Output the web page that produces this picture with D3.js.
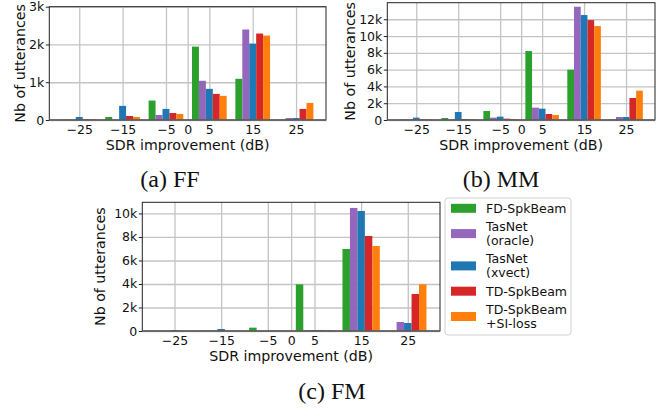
<!DOCTYPE html>
<html>
<head>
<meta charset="utf-8">
<script src="https://cdn.jsdelivr.net/npm/d3@7"></script>
<style>
  body { margin: 0; background: #fff; }
</style>
</head>
<body>
<script>
// bin centres of the SDR improvement histogram (bins 10 dB wide)
const bins = [-25, -15, -5, 5, 15, 25];
const xTicks = [-25, -15, -5, 0, 5, 15, 25];
const seriesNames = ["FD-SpkBeam", "TasNet (oracle)", "TasNet (xvect)", "TD-SpkBeam", "TD-SpkBeam +SI-loss"];
const legendLines = [["FD-SpkBeam"], ["TasNet", "(oracle)"], ["TasNet", "(xvect)"], ["TD-SpkBeam"], ["TD-SpkBeam", "+SI-loss"]];
const colors = ["#2ca02c", "#9467bd", "#1f77b4", "#d62728", "#ff7f0e"];

// counts per series (rows follow seriesNames), one value per bin
const ffCounts = [
  [10, 80, 515, 1943, 1091, 10],
  [5, 5, 133, 1038, 2396, 53],
  [80, 373, 293, 825, 2023, 53],
  [22, 107, 186, 692, 2289, 293],
  [22, 80, 160, 639, 2236, 452]
];
const mmCounts = [
  [40, 240, 1070, 8210, 5990, 40],
  [40, 20, 280, 1470, 13490, 357],
  [280, 950, 400, 1350, 12500, 357],
  [80, 120, 160, 714, 11900, 2620],
  [80, 120, 120, 595, 11190, 3490]
];
const fmCounts = [
  [5, 10, 284, 3970, 6980, 10],
  [5, 10, 10, 85, 10470, 766],
  [85, 170, 10, 85, 10210, 680],
  [5, 10, 10, 85, 8085, 3150],
  [5, 10, 10, 85, 7230, 3970]
];

const ffYTicks = [0, 1000, 2000, 3000];
const mmYTicks = [0, 2000, 4000, 6000, 8000, 10000, 12000];
const fmYTicks = [0, 2000, 4000, 6000, 8000, 10000];

const W = 672, H = 408;
const svg = d3.select("body").append("svg")
  .attr("width", W)
  .attr("height", H)
  .style("font-family", "'DejaVu Sans', sans-serif");

const kFmt = v => v === 0 ? "0" : (v / 1000) + "k";
const minusFmt = v => v < 0 ? "\u2212" + Math.abs(v) : String(v);

function drawPanel(counts, yTicks, yMax, box, yLabelX, caption) {
  let x = d3.scaleLinear().domain([-31.9, 31.9]).range([box.left, box.right]);
  let y = d3.scaleLinear().domain([0, yMax]).range([box.bottom, box.top]);
  // 5 bars share 80% of each 10 dB bin
  let offset = d3.scaleBand().domain(seriesNames).range([-4, 4]);

  let g = svg.append("g");

  // grid + tick labels
  let xAxis = g.append("g")
    .attr("transform", "translate(0," + box.bottom + ")")
    .call(d3.axisBottom(x).tickValues(xTicks).tickFormat(minusFmt)
      .tickSizeInner(-(box.bottom - box.top)).tickSizeOuter(0).tickPadding(5.5));
  let yAxis = g.append("g")
    .attr("transform", "translate(" + box.left + ",0)")
    .call(d3.axisLeft(y).tickValues(yTicks).tickFormat(kFmt)
      .tickSizeInner(-(box.right - box.left)).tickSizeOuter(0).tickPadding(5));
  [xAxis, yAxis].forEach(a => {
    a.select(".domain").remove();
    a.selectAll(".tick line").attr("stroke", "#c4c4c4").attr("stroke-width", 1.3);
    a.selectAll(".tick text").attr("fill", "#111").attr("font-size", 12.5)
      .attr("font-family", "'DejaVu Sans', sans-serif");
  });
  // short outward y tick marks
  yAxis.selectAll(".tick").append("line")
    .attr("x1", 0).attr("x2", -3.5)
    .attr("stroke", "#222").attr("stroke-width", 1);

  // bars
  let rows = [];
  counts.forEach((row, si) => row.forEach((v, bi) => rows.push({s: si, c: bins[bi], v: v})));
  g.append("g").selectAll("rect")
    .data(rows)
    .enter()
    .append("rect")
      .attr("x", d => x(d.c + offset(seriesNames[d.s])))
      .attr("width", d => x(d.c + offset(seriesNames[d.s]) + offset.bandwidth()) - x(d.c + offset(seriesNames[d.s])))
      .attr("y", d => y(d.v))
      .attr("height", d => y(0) - y(d.v))
      .attr("fill", d => colors[d.s]);

  // frame
  g.append("rect")
    .attr("x", box.left).attr("y", box.top)
    .attr("width", box.right - box.left).attr("height", box.bottom - box.top)
    .attr("fill", "none").attr("stroke", "#222").attr("stroke-width", 1);
  g.append("line")
    .attr("x1", box.left).attr("x2", box.right)
    .attr("y1", box.bottom).attr("y2", box.bottom)
    .attr("stroke", "#666").attr("stroke-width", 1.6);

  g.append("text")
    .attr("x", (box.left + box.right) / 2)
    .attr("y", box.bottom + 30)
    .attr("text-anchor", "middle")
    .attr("font-size", 14.2)
    .attr("fill", "#111")
    .text("SDR improvement (dB)");

  g.append("text")
    .attr("transform", "translate(" + yLabelX + "," + ((box.top + box.bottom) / 2) + ") rotate(-90)")
    .attr("text-anchor", "middle")
    .attr("font-size", 14.2)
    .attr("fill", "#111")
    .text("Nb of utterances");

  g.append("text")
    .attr("x", caption.x)
    .attr("y", caption.y)
    .attr("text-anchor", "middle")
    .attr("font-family", "'Liberation Serif', 'Times New Roman', serif")
    .attr("font-size", 24)
    .attr("fill", "#111")
    .text(caption.text);
}

drawPanel(ffCounts, ffYTicks, 3000, {left: 49.3, right: 326, top: 6.7, bottom: 120}, 25, {x: 170, y: 187, text: "(a) FF"});
drawPanel(mmCounts, mmYTicks, 13970, {left: 387.3, right: 655, top: 2.7, bottom: 120}, 355, {x: 501, y: 187, text: "(b) MM"});
drawPanel(fmCounts, fmYTicks, 10950, {left: 142.3, right: 440, top: 202.3, bottom: 331}, 105, {x: 332, y: 399, text: "(c) FM"});

// legend
let legend = svg.append("g");
legend.append("rect")
  .attr("x", 445).attr("y", 198).attr("width", 126).attr("height", 137)
  .attr("rx", 3)
  .attr("fill", "#fff").attr("stroke", "#d0d0d0").attr("stroke-width", 1);
let ly = 201.3;
legendLines.forEach((lines, i) => {
  let mid = ly + lines.length * 14 / 2;
  legend.append("rect")
    .attr("x", 451).attr("y", mid - 4.5).attr("width", 25).attr("height", 9)
    .attr("fill", colors[i]);
  lines.forEach((t, j) => {
    legend.append("text")
      .attr("x", 486)
      .attr("y", ly + j * 14 + 11.5)
      .attr("font-size", 12.5)
      .attr("fill", "#111")
      .text(t);
  });
  ly += lines.length * 14 + 4.3;
});
</script>
</body>
</html>
